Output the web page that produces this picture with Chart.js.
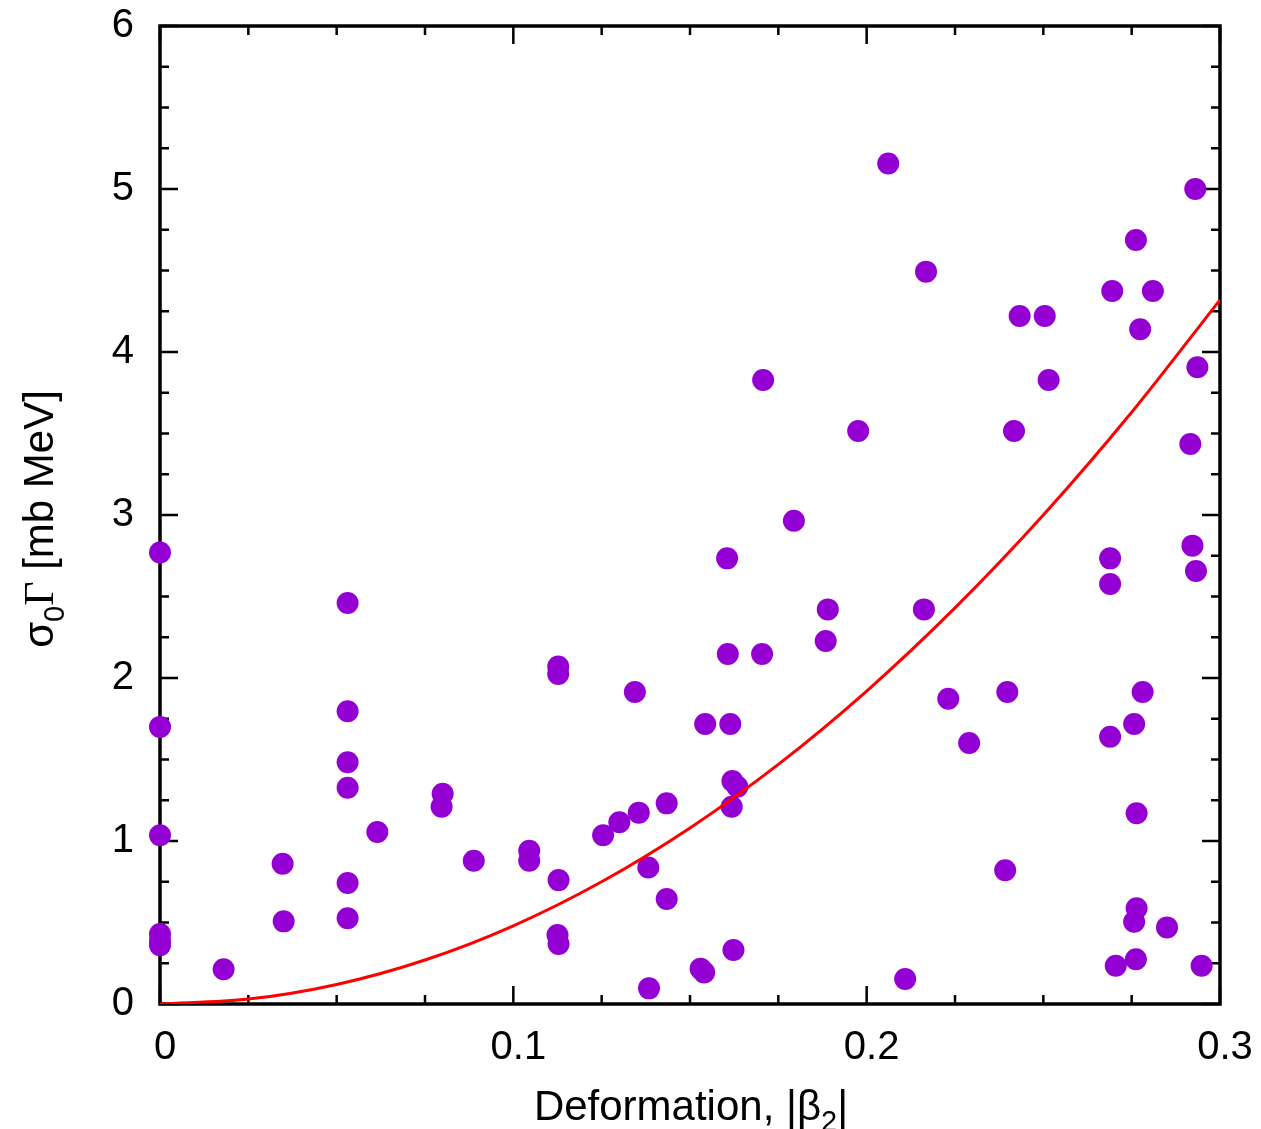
<!DOCTYPE html>
<html>
<head>
<meta charset="utf-8">
<script src="https://cdn.jsdelivr.net/npm/chart.js@4.4.1/dist/chart.umd.min.js"></script>
<style>
  html, body { margin: 0; padding: 0; background: #fff; }
  #wrap { width: 1261px; height: 1129px; }
</style>
</head>
<body>
<div id="wrap"><canvas id="chart" width="1261" height="1129"></canvas></div>
<script>
// measured points: deformation |beta2| vs sigma0*Gamma
const betaValues = [
    0, 0, 0, 0, 0, 0, 0.018, 0.0347, 0.035,
    0.0531, 0.0531, 0.0531, 0.0531, 0.0531, 0.0531, 0.0615, 0.080, 0.0797, 0.0888,
    0.1045, 0.1045, 0.1127, 0.1127, 0.1128, 0.1125, 0.1128, 0.1344, 0.1254, 0.130,
    0.1355, 0.1434, 0.1382, 0.1434, 0.1384, 0.153, 0.154, 0.1623, 0.1605, 0.1607,
    0.1704, 0.1543, 0.1614, 0.162, 0.1634, 0.1618, 0.189, 0.1884, 0.1794, 0.1707,
    0.1976, 0.2061, 0.2168, 0.2433, 0.2504, 0.2515, 0.2417, 0.2762, 0.2695, 0.281,
    0.2774, 0.293, 0.2936, 0.2916, 0.2162, 0.2231, 0.229, 0.2398, 0.2392, 0.2109,
    0.2689, 0.2689, 0.2689, 0.2781, 0.2757, 0.2764, 0.2764, 0.2757, 0.285, 0.2705,
    0.2762, 0.2948, 0.2922, 0.2932
];
const sigmaGamma = [
    2.77, 1.70, 1.035, 0.43, 0.39, 0.36, 0.213, 0.86, 0.507,
    2.46, 1.796, 1.483, 1.327, 0.742, 0.526, 1.055, 1.29, 1.21, 0.879,
    0.94, 0.879, 2.07, 2.025, 0.76, 0.423, 0.368, 1.914, 1.035, 1.115,
    1.174, 1.231, 0.838, 0.644, 0.096, 0.217, 0.194, 0.331, 2.734, 2.147,
    2.147, 1.718, 1.718, 1.368, 1.333, 1.21, 2.421, 2.227, 2.965, 3.828,
    3.515, 5.157, 4.493, 4.221, 4.221, 3.828, 3.515, 4.687, 4.374, 4.374,
    4.139, 5.0, 3.906, 3.436, 2.421, 1.873, 1.601, 1.914, 0.82, 0.153,
    2.734, 2.577, 1.64, 1.914, 1.718, 1.17, 0.587, 0.505, 0.47, 0.235,
    0.274, 0.235, 2.812, 2.656
];

// red fit curve
const curveX = [0, 0.025, 0.05, 0.075, 0.1, 0.125, 0.15, 0.175, 0.2, 0.225, 0.25, 0.275, 0.3];
const curveY = [0, 0.03, 0.12, 0.27, 0.48, 0.75, 1.08, 1.47, 1.92, 2.43, 3.0, 3.63, 4.32];

const xMajorTicks = [0, 0.1, 0.2, 0.3];
const xMinorTicks = [0.025, 0.05, 0.075, 0.125, 0.15, 0.175, 0.225, 0.25, 0.275];
const yMajorTicks = [0, 1, 2, 3, 4, 5, 6];
const yMinorTicks = [0.25, 0.5, 0.75, 1.25, 1.5, 1.75, 2.25, 2.5, 2.75, 3.25, 3.5, 3.75,
    4.25, 4.5, 4.75, 5.25, 5.5, 5.75];

const FONT = '"Liberation Sans", Arial, Helvetica, sans-serif';

// frame and inward ticks on all four sides
const framePlugin = {
    id: 'frame',
    beforeDatasetsDraw(chart) {
        const { ctx, chartArea: a, scales: { x, y } } = chart;
        ctx.save();
        ctx.strokeStyle = '#000';
        ctx.lineWidth = 2.5;
        ctx.beginPath();
        const tick = (v, len, isX) => {
            if (isX) {
                const px = x.getPixelForValue(v);
                ctx.moveTo(px, a.bottom); ctx.lineTo(px, a.bottom - len);
                ctx.moveTo(px, a.top); ctx.lineTo(px, a.top + len);
            } else {
                const py = y.getPixelForValue(v);
                ctx.moveTo(a.left, py); ctx.lineTo(a.left + len, py);
                ctx.moveTo(a.right, py); ctx.lineTo(a.right - len, py);
            }
        };
        xMajorTicks.forEach(v => tick(v, 18, true));
        xMinorTicks.forEach(v => tick(v, 9, true));
        yMajorTicks.forEach(v => tick(v, 18, false));
        yMinorTicks.forEach(v => tick(v, 9, false));
        ctx.stroke();
        ctx.lineWidth = 3.5;
        ctx.strokeRect(a.left, a.top, a.right - a.left, a.bottom - a.top);
        ctx.restore();
    }
};

// axis titles with subscripts
const drawParts = (ctx, parts) => {
    let total = 0;
    parts.forEach(p => { ctx.font = p.font; p.w = ctx.measureText(p.text).width; total += p.w; });
    let cx = -total / 2;
    parts.forEach(p => {
        ctx.font = p.font;
        ctx.fillText(p.text, cx, p.dy || 0);
        cx += p.w;
    });
};

const titlePlugin = {
    id: 'titles',
    afterDraw(chart) {
        const { ctx } = chart;
        ctx.save();
        ctx.fillStyle = '#000';
        ctx.textAlign = 'left';
        ctx.textBaseline = 'alphabetic';

        ctx.save();
        ctx.translate(691, 1120);
        drawParts(ctx, [
            { text: 'Deformation, |β', font: '42px ' + FONT },
            { text: '2', font: '29px ' + FONT, dy: 11 },
            { text: '|', font: '42px ' + FONT }
        ]);
        ctx.restore();

        ctx.save();
        ctx.translate(53, 519);
        ctx.rotate(-Math.PI / 2);
        drawParts(ctx, [
            { text: 'σ', font: '42px ' + FONT },
            { text: '0', font: '29px ' + FONT, dy: 11 },
            { text: 'Γ', font: '42px "Liberation Serif", serif' },
            { text: ' [mb MeV]', font: '42px ' + FONT }
        ]);
        ctx.restore();
        ctx.restore();
    }
};

// keep the plot frame where layout padding puts it
const noScalePadding = (s) => {
    s.paddingTop = 0;
    s.paddingBottom = 0;
    s.paddingLeft = 0;
    s.paddingRight = 0;
};

new Chart(document.getElementById('chart').getContext('2d'), {
    type: 'scatter',
    data: {
        datasets: [
            {
                type: 'line',
                label: 'fit',
                data: curveX.map((v, i) => ({ x: v, y: curveY[i] })),
                borderColor: '#ff0000',
                borderWidth: 3,
                pointRadius: 0,
                fill: false,
                cubicInterpolationMode: 'monotone',
                order: 0
            },
            {
                label: 'data',
                data: betaValues.map((v, i) => ({ x: v, y: sigmaGamma[i] })),
                backgroundColor: '#9400d3',
                borderWidth: 0,
                pointRadius: 11,
                pointHoverRadius: 11,
                clip: false,
                order: 1
            }
        ]
    },
    options: {
        responsive: false,
        animation: false,
        events: [],
        layout: { padding: { top: 26, right: 41, left: 0, bottom: 0 } },
        plugins: { legend: { display: false }, tooltip: { enabled: false } },
        scales: {
            x: {
                type: 'linear',
                min: 0,
                max: 0.3,
                grid: { display: false, drawTicks: false },
                border: { display: false },
                afterFit: (s) => { s.height = 125; noScalePadding(s); },
                ticks: {
                    stepSize: 0.1,
                    padding: 20,
                    labelOffset: 5,
                    color: '#000',
                    font: { family: FONT, size: 40 },
                    callback: (v) => Number(v.toFixed(1)).toString()
                }
            },
            y: {
                type: 'linear',
                min: 0,
                max: 6,
                grid: { display: false, drawTicks: false },
                border: { display: false },
                afterFit: (s) => { s.width = 160; noScalePadding(s); },
                ticks: {
                    stepSize: 1,
                    padding: 26,
                    color: '#000',
                    font: { family: FONT, size: 40 }
                }
            }
        }
    },
    plugins: [framePlugin, titlePlugin]
});
</script>
</body>
</html>
